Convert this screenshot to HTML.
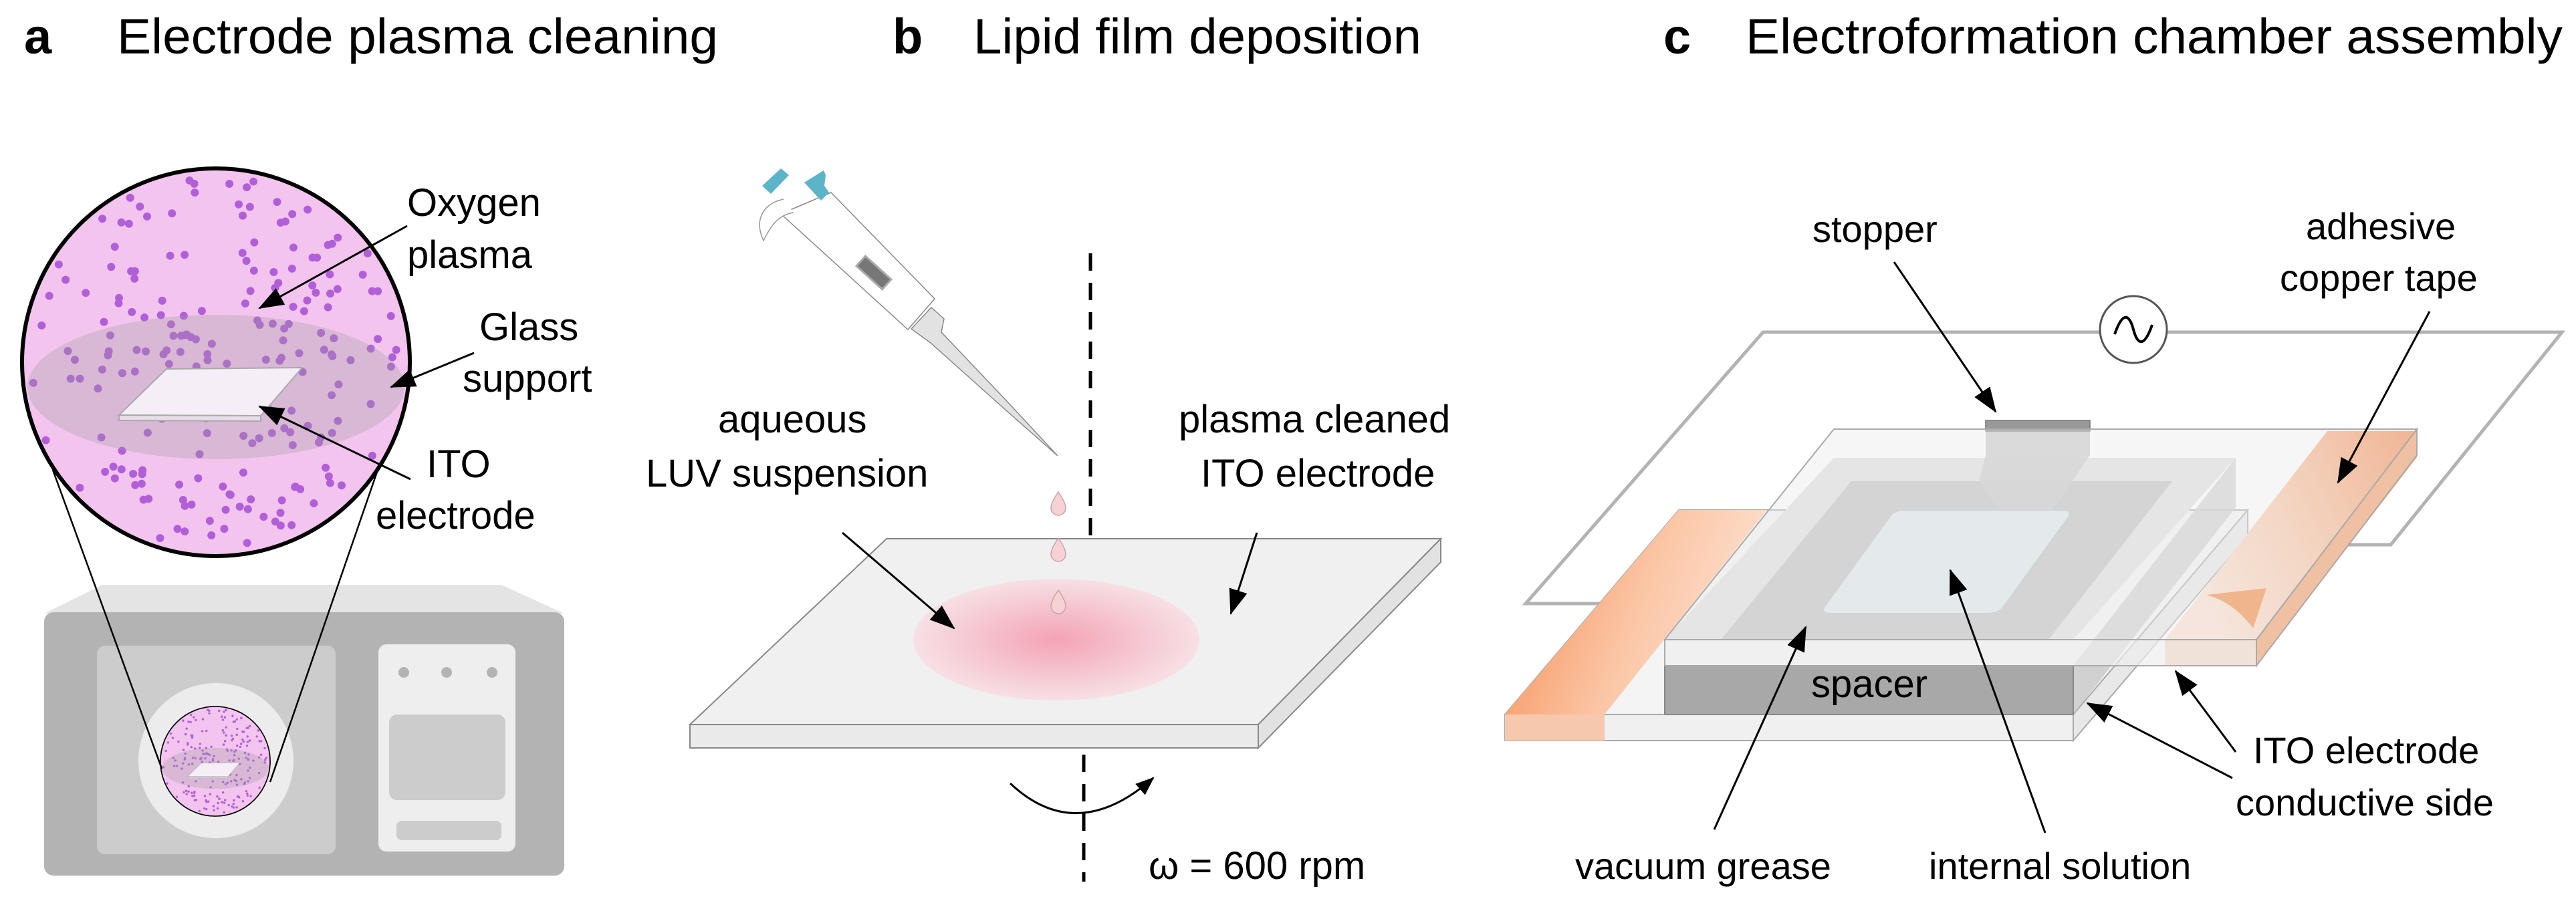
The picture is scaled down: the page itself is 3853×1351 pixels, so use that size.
<!DOCTYPE html>
<html><head><meta charset="utf-8"><style>
html,body{margin:0;padding:0;background:#fff;}
svg{display:block;}
text{font-family:"Liberation Sans",Arial,sans-serif;fill:#000;}
</style></head><body>
<svg id="s" width="3853" height="1351" viewBox="0 0 3853 1351" xmlns="http://www.w3.org/2000/svg">
<defs>
<marker id="ah" markerWidth="38" markerHeight="28" refX="36" refY="14" orient="auto" markerUnits="userSpaceOnUse"><path d="M0,0 L38,14 L0,28 z" fill="#000"/></marker>
<marker id="ahs" markerWidth="28" markerHeight="22" refX="26" refY="11" orient="auto" markerUnits="userSpaceOnUse"><path d="M0,0 L28,11 L0,22 z" fill="#000"/></marker>
<radialGradient id="pink" cx="0.5" cy="0.5" r="0.5">
<stop offset="0" stop-color="#f3a3b4"/><stop offset="0.6" stop-color="#f6c8d2"/><stop offset="1" stop-color="#f7e0e5"/></radialGradient>
<linearGradient id="cu" x1="0" y1="0" x2="1" y2="0.3">
<stop offset="0" stop-color="#f5894c"/><stop offset="0.6" stop-color="#fbc6a6"/><stop offset="1" stop-color="#fde0cf"/></linearGradient>
<linearGradient id="cu2" x1="1" y1="0" x2="0" y2="0.4">
<stop offset="0" stop-color="#f5894c"/><stop offset="0.6" stop-color="#fbc6a6"/><stop offset="1" stop-color="#fde0cf"/></linearGradient>
<clipPath id="cc"><circle cx="323" cy="542" r="290"/></clipPath>
<g id="lens">
<circle cx="323" cy="542" r="290" fill="#f2c4ee"/>
<g id="dots" clip-path="url(#cc)"></g>
<ellipse cx="323" cy="579" rx="282" ry="108" fill="#9a9a9a" fill-opacity="0.3"/>
<polygon points="178,621 249,552 452,550 390,622" fill="#f6eef6" stroke="#aaa" stroke-width="2"/>
<polygon points="178,621 390,622 390,630 178,629" fill="#e8dde8" stroke="#aaa" stroke-width="2"/>
<circle cx="323" cy="542" r="290" fill="none" stroke="#000" stroke-width="6"/>
</g>
</defs>

<text x="36" y="80" font-size="74" font-weight="bold">a</text>
<text x="175" y="80" font-size="74" textLength="899" lengthAdjust="spacingAndGlyphs">Electrode plasma cleaning</text>
<text x="1335" y="80" font-size="74" font-weight="bold">b</text>
<text x="1456" y="80" font-size="74" textLength="670" lengthAdjust="spacingAndGlyphs">Lipid film deposition</text>
<text x="2488" y="80" font-size="74" font-weight="bold">c</text>
<text x="2611" y="80" font-size="74" textLength="1222" lengthAdjust="spacingAndGlyphs">Electroformation chamber assembly</text>

<polygon points="66,918 153,875 750,875 844,918" fill="#e4e4e4"/>
<rect x="66" y="916" width="778" height="394" rx="14" fill="#b3b3b3"/>
<rect x="145" y="966" width="357" height="312" rx="12" fill="#cccccc"/>
<circle cx="323" cy="1138" r="116" fill="#ececec"/>
<rect x="566" y="964" width="205" height="310" rx="12" fill="#eeeeee"/>
<circle cx="604" cy="1006" r="8" fill="#b3b3b3"/><circle cx="668" cy="1006" r="8" fill="#b3b3b3"/><circle cx="736" cy="1006" r="8" fill="#b3b3b3"/>
<rect x="582" y="1069" width="174" height="128" rx="12" fill="#cccccc"/>
<rect x="593" y="1228" width="157" height="29" rx="8" fill="#cccccc"/>
<use href="#lens" transform="translate(322,1139) scale(0.283) translate(-323,-542)"/>
<line x1="79" y1="703" x2="242" y2="1150" stroke="#000" stroke-width="2.5"/>
<line x1="565" y1="703" x2="404" y2="1170" stroke="#000" stroke-width="2.5"/>
<use href="#lens"/>

<text font-size="58"><tspan x="609" y="323">Oxygen</tspan><tspan x="609" y="401">plasma</tspan></text>
<text font-size="58"><tspan x="717" y="509">Glass</tspan><tspan x="692" y="586">support</tspan></text>
<text font-size="58"><tspan x="638" y="714">ITO</tspan><tspan x="562" y="791">electrode</tspan></text>
<line x1="609" y1="338" x2="388" y2="461" stroke="#000" stroke-width="3" marker-end="url(#ah)"/>
<line x1="709" y1="528" x2="585" y2="579" stroke="#000" stroke-width="3" marker-end="url(#ah)"/>
<line x1="614" y1="717" x2="388" y2="608" stroke="#000" stroke-width="3" marker-end="url(#ah)"/>

<line x1="1631" y1="379" x2="1631" y2="879" stroke="#000" stroke-width="5" stroke-dasharray="26,18"/>
<polygon points="1326,806 2155,806 1882,1084 1032,1084" fill="#f0f0f0" stroke="#888" stroke-width="2"/>
<polygon points="1032,1084 1882,1084 1882,1119 1032,1119" fill="#eaeaea" stroke="#888" stroke-width="2"/>
<polygon points="1882,1084 2155,806 2155,841 1882,1119" fill="#e2e2e2" stroke="#888" stroke-width="2"/>
<ellipse cx="1580" cy="957" rx="214" ry="91" fill="url(#pink)"/>
<g fill="#f6d2d5" stroke="#c9a3a6" stroke-width="1.5">
<path d="M1583,736 Q1572,752 1572,760 A11,11 0 0 0 1594,760 Q1594,752 1583,736z"/>
<path d="M1583,805 Q1572,821 1572,829 A11,11 0 0 0 1594,829 Q1594,821 1583,805z"/>
<path d="M1583,883 Q1572,899 1572,907 A11,11 0 0 0 1594,907 Q1594,899 1583,883z"/>
</g>
<line x1="1621" y1="1129" x2="1621" y2="1319" stroke="#000" stroke-width="5" stroke-dasharray="26,18"/>
<path d="M1511,1172 Q1610,1265 1725,1164" fill="none" stroke="#000" stroke-width="3" marker-end="url(#ahs)"/>
<text x="1718" y="1315" font-size="58">ω = 600 rpm</text>
<polygon points="1363,492 1393,460 1412,477 1408,497 1503,597 1582,682 1497,607 1392,513" fill="#e2e2e2" stroke="#888" stroke-width="1.5"/>
<polygon points="1168,320 1243,288 1398,447 1358,493" fill="#fff" stroke="#888" stroke-width="1.5"/>
<path d="M1172,298 C1140,305 1128,330 1142,360 C1150,345 1160,322 1187,318" fill="#fff" stroke="#999" stroke-width="1.5"/>
<polygon points="1140,278 1168,252 1180,262 1153,290" fill="#5bb4c8"/>
<polygon points="1203,273 1232,255 1235,262 1233,278 1240,288 1228,300" fill="#5bb4c8"/>
<g transform="translate(1307,408) rotate(42)"><rect x="-26" y="-10" width="52" height="20" fill="#777" stroke="#aaa" stroke-width="3"/></g>
<text font-size="58"><tspan x="1074" y="647">aqueous</tspan><tspan x="966" y="728">LUV suspension</tspan></text>
<text font-size="58"><tspan x="1763" y="647">plasma cleaned</tspan><tspan x="1796" y="728">ITO electrode</tspan></text>
<line x1="1260" y1="797" x2="1427" y2="940" stroke="#000" stroke-width="3" marker-end="url(#ah)"/>
<line x1="1880" y1="797" x2="1841" y2="918" stroke="#000" stroke-width="3" marker-end="url(#ah)"/>

<path d="M2495,903 L2282,903 L2637,497 L3832,497 L3576,815 L3481,815" fill="none" stroke="#b3b3b3" stroke-width="5"/>
<circle cx="3191" cy="493" r="50" fill="#fff" stroke="#555" stroke-width="3"/>
<path d="M3163,500 C3175,465 3185,470 3191,493 C3197,516 3207,521 3219,486" fill="none" stroke="#000" stroke-width="4"/>
<polygon points="2251,1069 3101,1069 3362,763 2511,763" fill="#f1f1f1" fill-opacity="0.8" stroke="#aaa" stroke-width="2"/>
<polygon points="2251,1069 3101,1069 3101,1108 2251,1108" fill="#f0f0f0" stroke="#aaa" stroke-width="2"/>
<polygon points="3101,1069 3362,763 3362,802 3101,1108" fill="#e8e8e8" stroke="#aaa" stroke-width="2"/>
<polygon points="2251,1069 2400,1069 2643,763 2511,763" fill="url(#cu)"/>
<polygon points="2251,1069 2400,1069 2400,1108 2251,1108" fill="#f6c9ae"/>
<polygon points="3101,996 3101,1069 3344,759 3344,685" fill="#c8c8c8" fill-opacity="0.8"/>
<rect x="2490" y="996" width="611" height="73" fill="#a8a8a8" stroke="#888" stroke-width="2"/>
<text x="2796" y="1043" font-size="58" text-anchor="middle">spacer</text>
<polygon points="2743,685 3344,685 3101,957 2490,957" fill="#e0e0e0"/>
<polygon points="2769,720 3249,720 3064,957 2574,957" fill="#c2c2c2"/>
<path d="M2850,763 L3085,763 Q3101,763 3093,775 L2995,910 Q2988,918 2972,918 L2738,918 Q2722,918 2730,906 L2828,771 Q2834,763 2850,763z" fill="#dfe9ec" stroke="#b5c4c8" stroke-width="2"/>
<polygon points="2970,645 3126,645 3126,681 3070,763 2990,763 2960,720 2970,681" fill="#c8c8c8" fill-opacity="0.9"/>
<polygon points="2970,629 3126,629 3126,645 2970,645" fill="#999" stroke="#777" stroke-width="1.5"/>
<polygon points="3481,645 3615,645 3375,957 3238,957" fill="url(#cu2)"/>
<polygon points="3375,957 3615,645 3615,684 3375,996" fill="#f9a878"/>
<polygon points="3238,957 3375,957 3375,996 3238,996" fill="#f7c6a8"/>
<path d="M3300,890 L3390,880 L3370,940 Q3340,900 3300,890z" fill="#f5893f"/>
<polygon points="2743,642 3615,642 3375,957 2490,957" fill="#ececec" fill-opacity="0.45" stroke="#aaa" stroke-width="2"/>
<polygon points="2490,957 3375,957 3375,996 2490,996" fill="#eeeeee" fill-opacity="0.7" stroke="#aaa" stroke-width="2"/>
<polygon points="3375,957 3615,642 3615,681 3375,996" fill="#e4e4e4" fill-opacity="0.4" stroke="#aaa" stroke-width="2"/>

<text x="2711" y="362" font-size="56">stopper</text>
<text font-size="56"><tspan x="3449" y="358">adhesive</tspan><tspan x="3410" y="435">copper tape</tspan></text>
<text font-size="56"><tspan x="3370" y="1142">ITO electrode</tspan><tspan x="3344" y="1220">conductive side</tspan></text>
<text x="2356" y="1315" font-size="56">vacuum grease</text>
<text x="2885" y="1315" font-size="56">internal solution</text>
<line x1="2833" y1="392" x2="2985" y2="616" stroke="#000" stroke-width="3" marker-end="url(#ah)"/>
<line x1="3634" y1="466" x2="3497" y2="722" stroke="#000" stroke-width="3" marker-end="url(#ah)"/>
<line x1="2564" y1="1241" x2="2701" y2="938" stroke="#000" stroke-width="3" marker-end="url(#ah)"/>
<line x1="3059" y1="1246" x2="2917" y2="853" stroke="#000" stroke-width="3" marker-end="url(#ah)"/>
<line x1="3339" y1="1164" x2="3122" y2="1052" stroke="#000" stroke-width="3" marker-end="url(#ah)"/>
<line x1="3344" y1="1125" x2="3254" y2="1004" stroke="#000" stroke-width="3" marker-end="url(#ah)"/>
</svg>
<script>
(function(){
var g=document.getElementById('dots'),ns='http://www.w3.org/2000/svg',s=12345;
function r(){s=(s*1103515245+12345)%2147483648;return s/2147483648;}
var n=0;while(n<200){var x=r()*2-1,y=r()*2-1;if(x*x+y*y>0.97)continue;
var c=document.createElementNS(ns,'circle');c.setAttribute('cx',323+x*285);c.setAttribute('cy',542+y*285);
c.setAttribute('r',6);c.setAttribute('fill','#b15fd8');g.appendChild(c);n++;}
})();
</script>
</body></html>
